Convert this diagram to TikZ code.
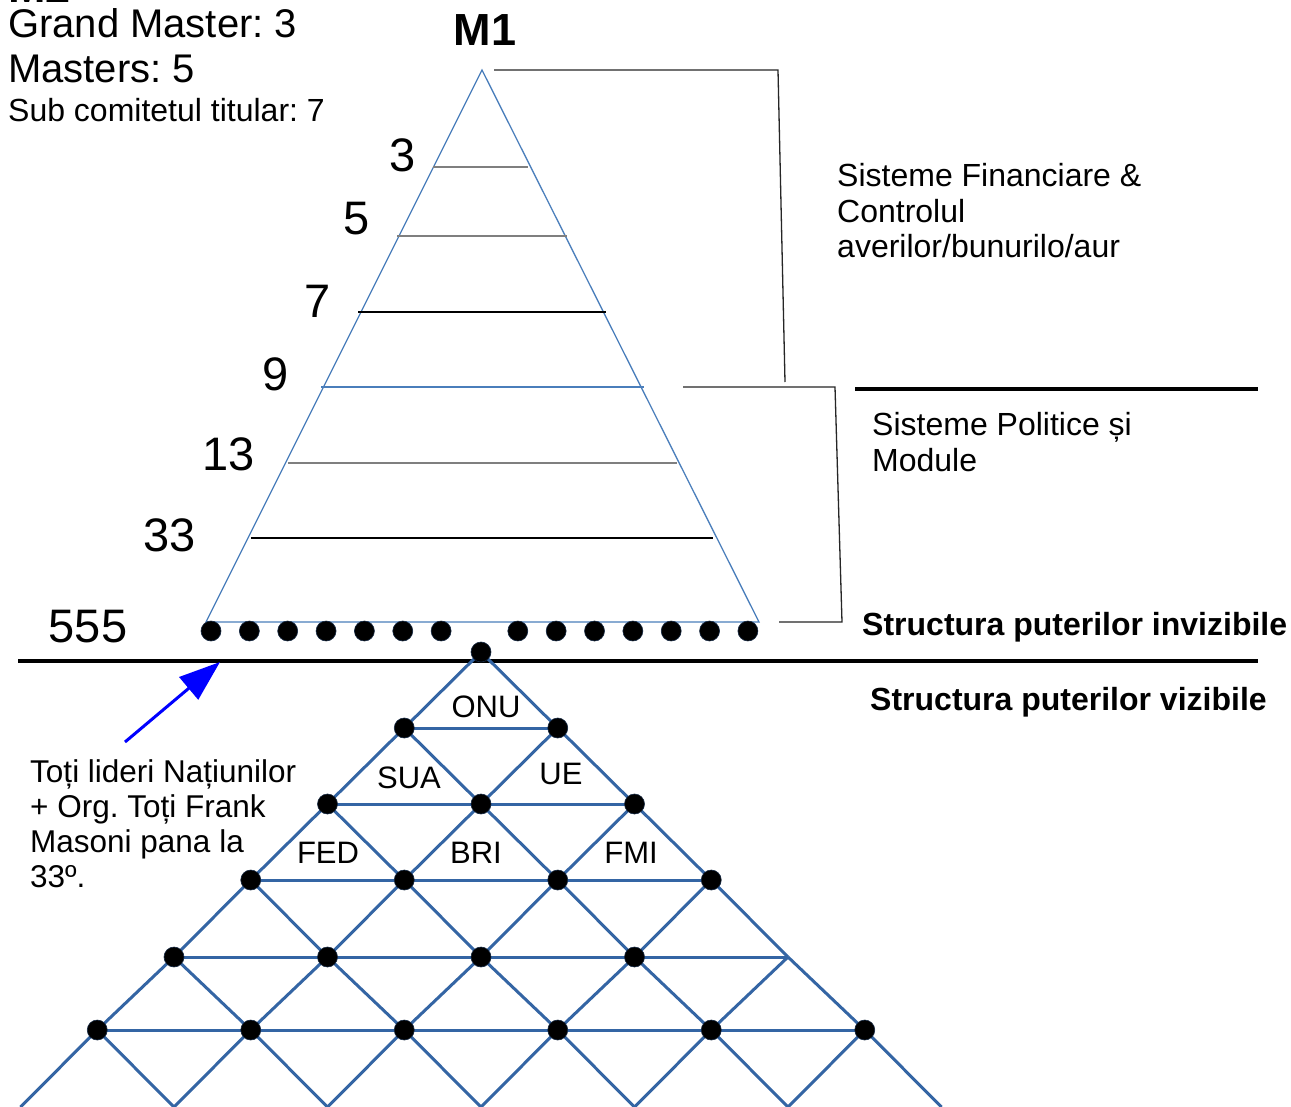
\documentclass[tikz,border=0pt]{standalone}
\usepackage{fontspec}
\setmainfont{Liberation Sans}
\usetikzlibrary{arrows.meta}
\definecolor{latblue}{HTML}{3465A4}
\definecolor{triblue}{HTML}{4A7EBB}
\definecolor{arrblue}{HTML}{0000FF}
\definecolor{midgray}{HTML}{7F7F7F}
\frenchspacing
\begin{document}
\begin{tikzpicture}[x=1pt,y=-1pt,
  txt/.style={inner sep=0pt, anchor=base west},
  ctxt/.style={inner sep=0pt, anchor=base},
  fbig/.style={font=\fontsize{40}{45}\selectfont},
  fmid/.style={font=\fontsize{32}{36}\selectfont},
  fmidb/.style={font=\fontsize{32}{36}\selectfont\bfseries},
  flat/.style={font=\fontsize{31}{35}\selectfont},
  fleft/.style={font=\fontsize{31.5}{35}\selectfont},
  fnum/.style={font=\fontsize{47}{52}\selectfont},
  ftitle/.style={font=\fontsize{45}{50}\selectfont\bfseries},
  latt/.style={draw=latblue, line width=3pt},
  tri/.style={draw=triblue, line width=1.3pt},
  brk/.style={draw=black!85, line width=1.3pt},
  thick line/.style={draw=black, line width=4pt},
  dot/.style={circle, fill=black, draw=latblue!40!black, line width=0.6pt, inner sep=0pt, minimum size=20pt},
]
\useasboundingbox (0,0) rectangle (1291,1107);
\fill[white] (0,0) rectangle (1291,1107);

% ---------- upper pyramid ----------
\coordinate (apex) at (482,70);
\coordinate (bl) at (206,622);
\coordinate (br) at (759,622);
\draw[tri] (apex) -- (bl) -- (br) -- cycle;
\draw[draw=midgray, line width=1.3pt] (433,167) -- (528,167);
\draw[draw=midgray, line width=1.3pt] (397,236) -- (567,236);
\draw[draw=black, line width=1.1pt] (358,312) -- (606,312);
\draw[tri] (321,387) -- (644,387);
\draw[draw=midgray, line width=1.3pt] (288,463) -- (677,463);
\draw[draw=black, line width=1.1pt] (251,538) -- (713,538);

% brackets
\coordinate (b1a) at (494,70);
\coordinate (b1b) at (778,70);
\coordinate (b1c) at (785,382);
\draw[brk] (b1a) -- (b1b) -- (b1c);
\coordinate (b2a) at (683,387);
\coordinate (b2b) at (835,387);
\coordinate (b2c) at (842,622);
\coordinate (b2d) at (779,622);
\draw[brk] (b2a) -- (b2b) -- (b2c) -- (b2d);

% thick separators
\coordinate (s1a) at (855,389);
\coordinate (s1b) at (1258,389);
\draw[thick line] (s1a) -- (s1b);
\coordinate (s2a) at (18,661);
\coordinate (s2b) at (1258,661);
\draw[thick line] (s2a) -- (s2b);

% base dots
\foreach \k in {0,...,14} {
  \ifnum\k=7\relax\else
    \pgfmathsetmacro\xx{211+38.35*\k}
    \node[dot] (bd-\k) at (\xx,631) {};
  \fi
}

% ---------- lattice ----------
\def\rowy{{652,728,804,880,957,1030,1107}}
\foreach \r in {0,...,6} {
  \foreach \i in {0,...,\r} {
    \pgfmathsetmacro\xx{481-76.75*\r+153.5*\i}
    \pgfmathsetmacro\yy{\rowy[\r]}
    \coordinate (p-\r-\i) at (\xx,\yy);
  }
}
\foreach \r in {1,...,5} {
  \draw[latt] (p-\r-0) -- (p-\r-\r);
}
\foreach \r in {0,...,5} {
  \pgfmathtruncatemacro\rn{\r+1}
  \foreach \i in {0,...,\r} {
    \pgfmathtruncatemacro\ii{\i+1}
    \draw[latt] (p-\r-\i) -- (p-\rn-\i);
    \draw[latt] (p-\r-\i) -- (p-\rn-\ii);
  }
}
\foreach \r in {0,...,5} {
  \foreach \i in {0,...,\r} {
    \ifnum\r=4\relax
      \ifnum\i=4\relax\else
        \node[dot] (d-\r-\i) at (p-\r-\i) {};
      \fi
    \else
      \node[dot] (d-\r-\i) at (p-\r-\i) {};
    \fi
  }
}

% lattice labels
\node[ctxt, flat] (onu) at (486,717) {ONU};
\node[ctxt, flat] (sua) at (409,788) {SUA};
\node[ctxt, flat] (ue) at (561,784) {UE};
\node[ctxt, flat] (fed) at (328,863) {FED};
\node[ctxt, flat] (bri) at (476,863) {BRI};
\node[ctxt, flat] (fmi) at (631,863) {FMI};

% arrow
\coordinate (atail) at (125,742);
\coordinate (ahead) at (220,662);
\draw[draw=arrblue, line width=3pt, -{Triangle[length=41pt,width=29pt]}] (atail) -- (ahead);

% ---------- texts ----------
\node[txt, ftitle] (m2) at (8,3) {M2};
\node[txt, fbig] (gm) at (8,38) {Grand Master: 3};
\node[txt, fbig] (ms) at (8,83) {Masters: 5};
\node[txt, fmid] (sc) at (8,121.5) {Sub comitetul titular: 7};
\node[ctxt, ftitle] (m1) at (485,46) {M1};

\node[ctxt, fnum] (n3) at (403,172) {3};
\node[ctxt, fnum] (n5) at (357,235) {5};
\node[ctxt, fnum] (n7) at (318,318) {7};
\node[ctxt, fnum] (n9) at (276,391) {9};
\node[ctxt, fnum] (n13) at (229,470) {13};
\node[ctxt, fnum] (n33) at (170,551) {33};
\node[ctxt, fnum] (n555) at (88,642) {555};

\node[txt, fmid] (sf1) at (837,187) {Sisteme Financiare \&};
\node[txt, fmid] (sf2) at (837,223) {Controlul};
\node[txt, fmid] (sf3) at (837,258) {averilor/bunurilo/aur};
\node[txt, fmid] (sp1) at (872,435) {Sisteme Politice și};
\node[txt, fmid] (sp2) at (872,471) {Module};
\node[txt, fmidb] (inv) at (862,635) {Structura puterilor invizibile};
\node[txt, fmidb] (viz) at (870,710) {Structura puterilor vizibile};

\node[txt, fleft] (t1) at (30,782) {Toți lideri Națiunilor};
\node[txt, fleft] (t2) at (30,817) {+ Org. Toți Frank};
\node[txt, fleft] (t3) at (30,852) {Masoni pana la};
\node[txt, fleft] (t4) at (30,887) {33º.};
\end{tikzpicture}
\end{document}
